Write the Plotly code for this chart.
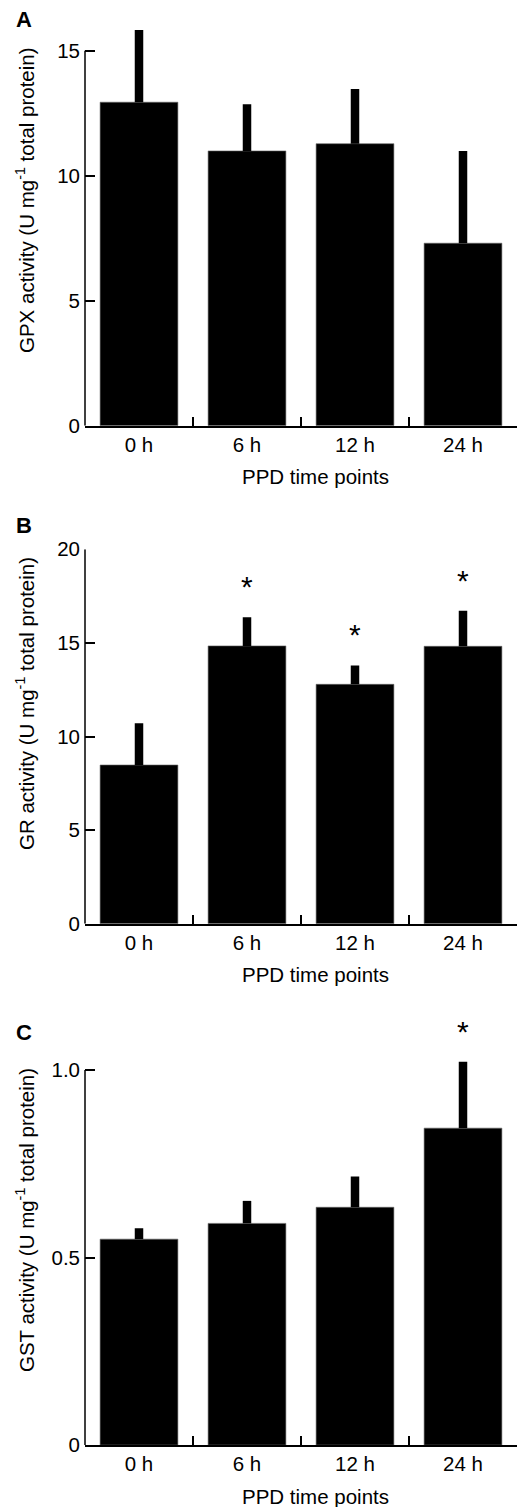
import plotly.graph_objects as go

categories = ["0 h", "6 h", "12 h", "24 h"]

gpx_mean = [12.94, 10.99, 11.28, 7.30]
gpx_err = [2.89, 1.87, 2.19, 3.69]
gpx_sig = [False, False, False, False]

gr_mean = [8.48, 14.84, 12.79, 14.82]
gr_err = [2.23, 1.53, 1.01, 1.90]
gr_sig = [False, True, True, True]

gst_mean = [0.549, 0.591, 0.634, 0.845]
gst_err = [0.029, 0.060, 0.082, 0.177]
gst_sig = [False, False, False, True]

W, H = 519, 1507
FONT = "Liberation Sans, Arial, Helvetica, sans-serif"
FS = 20.5

panels = [
    dict(letter="A", mean=gpx_mean, err=gpx_err, sig=gpx_sig,
         ytitle="GPX activity (U mg<sup>-1</sup> total protein)",
         zero_px=425.7, top_px=13.2, ymax=16.5, ytop_tick=15,
         tickvals=[0, 5, 10, 15], ticktext=["0", "5", "10", "15"],
         letter_px=20, title_px=200),
    dict(letter="B", mean=gr_mean, err=gr_err, sig=gr_sig,
         ytitle="GR activity (U mg<sup>-1</sup> total protein)",
         zero_px=923.8, top_px=549.3, ymax=20, ytop_tick=20,
         tickvals=[0, 5, 10, 15, 20], ticktext=["0", "5", "10", "15", "20"],
         letter_px=526, title_px=704),
    dict(letter="C", mean=gst_mean, err=gst_err, sig=gst_sig,
         ytitle="GST activity (U mg<sup>-1</sup> total protein)",
         zero_px=1445.0, top_px=1013.75, ymax=1.15, ytop_tick=1.0,
         tickvals=[0, 0.5, 1.0], ticktext=["0", "0.5", "1.0"],
         letter_px=1032, title_px=1220),
]

X0, X1 = 85, 517

fig = go.Figure()
annotations = []
shapes = []


def py(px):
    return 1 - px / H


for i, p in enumerate(panels):
    n = "" if i == 0 else str(i + 1)
    xa, ya = "x" + n, "y" + n
    fig.add_trace(go.Bar(
        x=categories, y=p["mean"], xaxis=xa, yaxis=ya,
        width=0.72,
        marker=dict(color="black", line=dict(color="#666666", width=0.6)),
        error_y=dict(type="data", symmetric=False, array=p["err"],
                     arrayminus=[0] * len(p["err"]),
                     color="black", thickness=8.5, width=0),
        showlegend=False, hoverinfo="skip",
    ))
    fig.update_layout({
        "xaxis" + n: dict(
            domain=[X0 / W, X1 / W], anchor=ya, type="category",
            categoryorder="array", categoryarray=categories,
            range=[-0.5, 3.5], showline=True, linecolor="black", linewidth=1.5,
            ticks="inside", tickson="boundaries", ticklen=9, tickwidth=1.5,
            tickcolor="black", showgrid=False, zeroline=False, automargin=False,
            tickfont=dict(family=FONT, size=FS, color="black"),
            ticklabelstandoff=0,
        ),
        "yaxis" + n: dict(
            domain=[py(p["zero_px"]), py(p["top_px"])], anchor=xa,
            range=[0, p["ymax"]], showline=False, showgrid=False, zeroline=False,
            ticks="inside", ticklen=10, tickwidth=1.5, tickcolor="black",
            tickvals=p["tickvals"], ticktext=p["ticktext"], automargin=False,
            tickfont=dict(family=FONT, size=FS, color="black"),
            ticklabelstandoff=4,
        ),
    })
    shapes.append(dict(type="line", xref=xa + " domain", yref=ya,
                       x0=0, x1=0, y0=0, y1=p["ytop_tick"],
                       line=dict(color="black", width=1.5)))
    annotations.append(dict(text="<b>" + p["letter"] + "</b>", xref="paper", yref="paper",
                            x=24 / W, y=py(p["letter_px"]), xanchor="center", yanchor="middle",
                            showarrow=False, font=dict(family=FONT, size=22, color="black")))
    annotations.append(dict(text=p["ytitle"], xref="paper", yref="paper",
                            x=25 / W, y=py(p["title_px"]), xanchor="center", yanchor="middle",
                            textangle=-90, showarrow=False,
                            font=dict(family=FONT, size=FS, color="black")))
    annotations.append(dict(text="PPD time points", xref="paper", yref="paper",
                            x=315 / W, y=py(p["zero_px"] + 51), xanchor="center", yanchor="middle",
                            showarrow=False, font=dict(family=FONT, size=FS, color="black")))
    for c, m, e, s in zip(categories, p["mean"], p["err"], p["sig"]):
        if s:
            annotations.append(dict(text="*", xref=xa, yref=ya, x=c, y=m + e,
                                    xanchor="center", yanchor="bottom", yshift=12,
                                    showarrow=False,
                                    font=dict(family=FONT, size=30, color="black")))

fig.update_layout(
    template="none",
    width=W, height=H, margin=dict(l=0, r=0, t=0, b=0, pad=0, autoexpand=False),
    paper_bgcolor="white", plot_bgcolor="white",
    annotations=annotations, shapes=shapes, bargap=0.28,
    font=dict(family=FONT, color="black"),
)

fig.write_html("out.html",
               config={"displayModeBar": False},
               post_script="document.body.style.margin='0px';document.body.style.overflow='hidden';")
